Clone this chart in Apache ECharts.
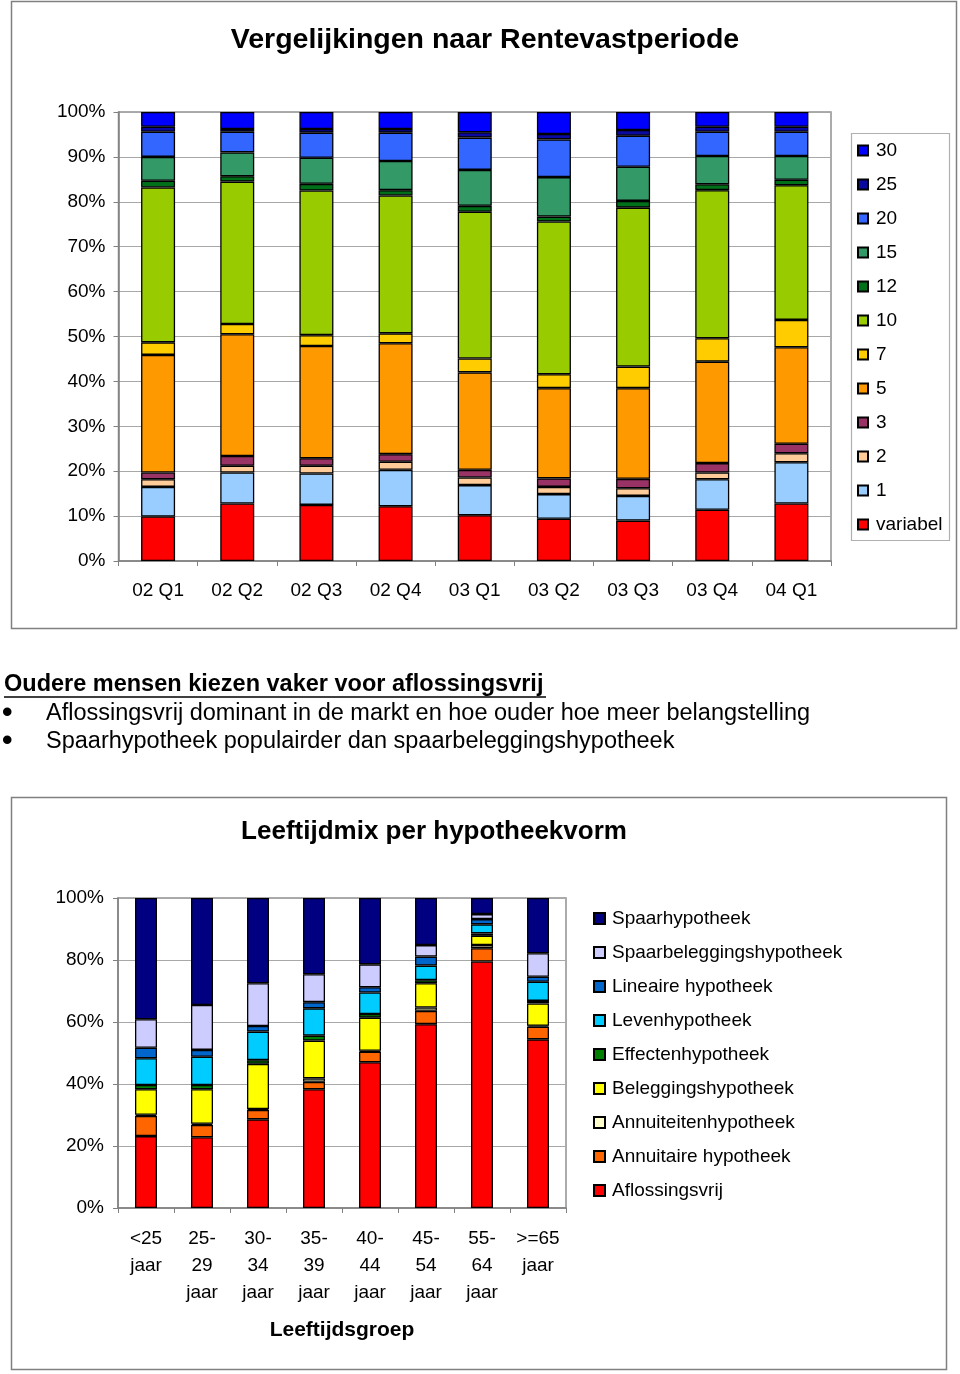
<!DOCTYPE html>
<html><head><meta charset="utf-8">
<script src="https://cdn.jsdelivr.net/npm/echarts@6/dist/echarts.min.js"></script>
<style>html,body{margin:0;padding:0;background:#fff}#c{width:960px;height:1374px}</style>
</head><body><div id="c"></div>
<script>
// ---- Chart 1: Vergelijkingen naar Rentevastperiode ----
const quarters = ['02 Q1','02 Q2','02 Q3','02 Q4','03 Q1','03 Q2','03 Q3','03 Q4','04 Q1'];
const periodNames = ['variabel','1','2','3','5','7','10','12','15','20','25','30'];
const pVariabel = [9.9, 12.8, 12.5, 12.2, 10.2, 9.4, 9.0, 11.4, 12.8];
const p1  = [6.6, 6.9, 7.0, 8.1, 6.7, 5.5, 5.5, 6.8, 9.2];
const p2  = [1.7, 1.5, 1.7, 1.8, 1.7, 1.6, 1.7, 1.5, 2.0];
const p3  = [1.5, 2.2, 1.7, 1.7, 1.7, 1.9, 2.1, 2.1, 2.1];
const p5  = [26.2, 27.1, 25.0, 24.7, 21.7, 20.1, 20.2, 22.6, 21.5];
const p7  = [2.8, 2.3, 2.4, 2.2, 3.1, 3.1, 4.8, 5.2, 6.1];
const p10 = [34.5, 31.7, 32.2, 30.7, 32.7, 34.0, 35.4, 33.0, 30.0];
const p12 = [1.5, 1.2, 1.5, 1.2, 1.3, 1.1, 1.5, 1.3, 1.2];
const p15 = [5.3, 5.3, 5.8, 6.5, 8.0, 8.8, 7.6, 6.3, 5.3];
const p20 = [5.6, 4.6, 5.6, 6.3, 7.2, 8.4, 6.9, 5.4, 5.4];
const p25 = [1.1, 0.6, 0.8, 0.8, 1.2, 1.2, 1.3, 1.1, 1.1];
const p30 = [3.3, 3.8, 3.8, 3.8, 4.5, 4.9, 4.0, 3.3, 3.3];
const periodData = [pVariabel, p1, p2, p3, p5, p7, p10, p12, p15, p20, p25, p30];
const periodColors = ['#FF0000','#99CCFF','#FFCC99','#993366','#FF9900','#FFCC00','#99CC00','#006F1A','#339966','#3366FF','#0A0AA0','#0000FF'];

// ---- Chart 2: Leeftijdmix per hypotheekvorm ----
const ageGroups = ['<25\njaar','25-\n29\njaar','30-\n34\njaar','35-\n39\njaar','40-\n44\njaar','45-\n54\njaar','55-\n64\njaar','>=65\njaar'];
const typeNames = ['Aflossingsvrij','Annuitaire hypotheek','Annuiteitenhypotheek','Beleggingshypotheek','Effectenhypotheek','Levenhypotheek','Lineaire hypotheek','Spaarbeleggingshypotheek','Spaarhypotheek'];
const tAflossingsvrij = [23.2, 22.8, 28.6, 38.3, 47.0, 59.3, 79.5, 54.4];
const tAnnuitaire     = [6.5, 4.0, 3.0, 2.4, 3.4, 4.3, 4.3, 4.1];
const tAnnuiteiten    = [0.4, 0.4, 0.3, 1.1, 0.3, 1.1, 1.0, 0.3];
const tBeleggings     = [8.2, 11.1, 14.6, 12.2, 10.7, 7.8, 3.0, 7.2];
const tEffecten       = [1.4, 1.4, 1.2, 1.6, 1.2, 1.0, 0.8, 0.8];
const tLeven          = [8.6, 9.1, 9.2, 8.8, 6.9, 4.7, 2.9, 6.2];
const tLineaire       = [3.4, 2.2, 1.8, 2.0, 1.7, 2.9, 1.7, 1.6];
const tSpaarbel       = [9.2, 14.5, 13.8, 9.0, 7.4, 3.7, 1.6, 7.6];
const tSpaar          = [39.1, 34.5, 27.5, 24.6, 21.4, 15.2, 5.2, 17.8];
const typeData = [tAflossingsvrij, tAnnuitaire, tAnnuiteiten, tBeleggings, tEffecten, tLeven, tLineaire, tSpaarbel, tSpaar];
const typeColors = ['#FF0000','#FF6600','#FFFFCC','#FFFF00','#008000','#00CCFF','#0066CC','#CCCCFF','#000080'];

const FONT = '"Liberation Sans", Arial, sans-serif';
const chart = echarts.init(document.getElementById('c'), null, {renderer:'canvas'});

const series = [];
periodNames.forEach((n,i)=>series.push({
  name:n, type:'bar', stack:'p', xAxisIndex:0, yAxisIndex:0, barWidth:34,
  data:periodData[i], itemStyle:{color:periodColors[i], borderColor:'#000', borderWidth:1.3},
  emphasis:{disabled:true}
}));
typeNames.forEach((n,i)=>series.push({
  name:n, type:'bar', stack:'t', xAxisIndex:1, yAxisIndex:1, barWidth:22,
  data:typeData[i], itemStyle:{color:typeColors[i], borderColor:'#000', borderWidth:1.3},
  emphasis:{disabled:true}
}));

const axisCommon = {
  axisLine:{show:true, lineStyle:{color:'#808080', width:1.5}},
  axisTick:{show:true, inside:false, length:5, lineStyle:{color:'#808080'}},
};

chart.setOption({
  animation:false,
  textStyle:{fontFamily:FONT, color:'#000'},
  title:[
    {text:'Vergelijkingen naar Rentevastperiode', left:485, top:26, textAlign:'center', padding:0,
     textStyle:{fontFamily:FONT, fontSize:28.5, fontWeight:'bold', color:'#000'}},
    {text:'Leeftijdmix per hypotheekvorm', left:434, top:819, textAlign:'center', padding:0,
     textStyle:{fontFamily:FONT, fontSize:26, fontWeight:'bold', color:'#000'}}
  ],
  grid:[
    {left:118.5, top:112, width:712.5, height:449, show:true, borderColor:'#909090', borderWidth:1.5, backgroundColor:'transparent'},
    {left:118, top:898, width:448, height:310, show:true, borderColor:'#909090', borderWidth:1.5, backgroundColor:'transparent'}
  ],
  xAxis:[
    Object.assign({type:'category', gridIndex:0, data:quarters,
      axisLabel:{fontSize:19, color:'#000', margin:20, fontFamily:FONT},
      splitLine:{show:false}}, axisCommon),
    Object.assign({type:'category', gridIndex:1, data:ageGroups,
      axisLabel:{fontSize:19, color:'#000', margin:17, lineHeight:27, fontFamily:FONT, interval:0},
      name:'Leeftijdsgroep', nameLocation:'middle', nameGap:112,
      nameTextStyle:{fontSize:21, fontWeight:'bold', color:'#000', fontFamily:FONT},
      splitLine:{show:false}}, axisCommon)
  ],
  yAxis:[
    Object.assign({type:'value', gridIndex:0, min:0, max:100, interval:10,
      axisLabel:{formatter:'{value}%', fontSize:19, color:'#000', margin:13, fontFamily:FONT},
      splitLine:{show:true, lineStyle:{color:'#a8a8a8', width:1.2}}}, axisCommon),
    Object.assign({type:'value', gridIndex:1, min:0, max:100, interval:20,
      axisLabel:{formatter:'{value}%', fontSize:19, color:'#000', margin:14, fontFamily:FONT},
      splitLine:{show:true, lineStyle:{color:'#a8a8a8', width:1.2}}}, axisCommon)
  ],
  legend:[
    {data:periodNames.slice().reverse(), orient:'vertical', left:857, top:141, padding:0,
     itemWidth:10, itemHeight:10, itemGap:15, icon:'rect', selectedMode:false,
     textStyle:{fontSize:19, lineHeight:19, color:'#000', fontFamily:FONT, padding:[0,0,0,3]}},
    {data:typeNames.slice().reverse(), orient:'vertical', left:593, top:909, padding:0,
     itemWidth:11, itemHeight:11, itemGap:15, icon:'rect', selectedMode:false,
     textStyle:{fontSize:19, lineHeight:19, color:'#000', fontFamily:FONT, padding:[0,0,0,2]}}
  ],
  graphic:[
    {type:'rect', shape:{x:11.5, y:1.5, width:945, height:627}, style:{fill:'none', stroke:'#808080', lineWidth:1.5}, silent:true},
    {type:'rect', shape:{x:851.5, y:133.5, width:98, height:407}, style:{fill:'none', stroke:'#b0b0b0', lineWidth:1.2}, silent:true},
    {type:'rect', shape:{x:11.5, y:797.5, width:935, height:572}, style:{fill:'none', stroke:'#808080', lineWidth:1.5}, silent:true},
    {type:'text', x:4, y:685, style:{text:'Oudere mensen kiezen vaker voor aflossingsvrij', font:'bold 23.5px '+FONT, fill:'#000', verticalAlign:'middle'}},
    {type:'line', shape:{x1:4, y1:697, x2:546, y2:697}, style:{stroke:'#000', lineWidth:1.5}},
    {type:'text', x:2, y:714, style:{text:'•', font:'bold 30px '+FONT, fill:'#000', verticalAlign:'middle'}},
    {type:'text', x:46, y:714, style:{text:'Aflossingsvrij dominant in de markt en hoe ouder hoe meer belangstelling', font:'23.5px '+FONT, fill:'#000', verticalAlign:'middle'}},
    {type:'text', x:2, y:742, style:{text:'•', font:'bold 30px '+FONT, fill:'#000', verticalAlign:'middle'}},
    {type:'text', x:46, y:742, style:{text:'Spaarhypotheek populairder dan spaarbeleggingshypotheek', font:'23.5px '+FONT, fill:'#000', verticalAlign:'middle'}}
  ],
  series:series
});
</script>
</body></html>
